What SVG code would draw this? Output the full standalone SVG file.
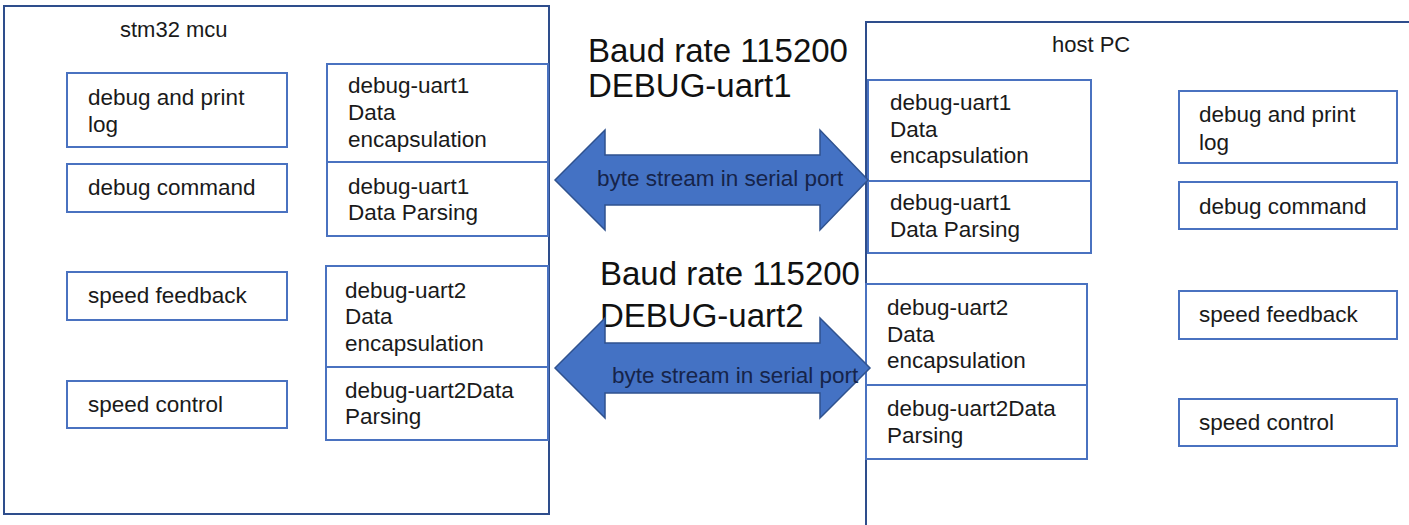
<svg xmlns="http://www.w3.org/2000/svg" width="1409" height="525" viewBox="0 0 1409 525">
<style>
.outer{fill:#fff;stroke:#2e4d8c;stroke-width:2}
.box{fill:#fff;stroke:#4a72c0;stroke-width:2}
.t{font-family:"Liberation Sans",Arial,sans-serif;font-size:22.5px;fill:#1a1a1a}
.title{font-family:"Liberation Sans",Arial,sans-serif;font-size:22px;fill:#1a1a1a}
.baud{font-family:"Liberation Sans",Arial,sans-serif;font-size:33px;fill:#111}
.arrow{fill:#4472c4;stroke:#2f528f;stroke-width:1.5}
.at{font-family:"Liberation Sans",Arial,sans-serif;font-size:22.5px;fill:#16244a}
</style>
<rect width="1409" height="525" fill="#fff"/>
<g id="mcu">
<rect class="outer" x="4" y="6" width="545" height="508"/>
<text class="title" x="120" y="37">stm32 mcu</text>
</g>
<g id="mcu-debug-log"><rect class="box" x="67" y="73" width="220" height="74"/><text class="t" x="88" y="105">debug and print</text><text class="t" x="88" y="132">log</text></g>
<g id="mcu-debug-cmd"><rect class="box" x="67" y="164" width="220" height="48"/><text class="t" x="88" y="195">debug command</text></g>
<g id="mcu-speed-fb"><rect class="box" x="67" y="272" width="220" height="48"/><text class="t" x="88" y="303">speed feedback</text></g>
<g id="mcu-speed-ctl"><rect class="box" x="67" y="381" width="220" height="47"/><text class="t" x="88" y="412">speed control</text></g>
<g id="mcu-uart1-enc"><rect class="box" x="327" y="64" width="221" height="98"/><text class="t" x="348" y="93">debug-uart1</text><text class="t" x="348" y="120">Data</text><text class="t" x="348" y="147">encapsulation</text></g>
<g id="mcu-uart1-parse"><rect class="box" x="327" y="162" width="221" height="74"/><text class="t" x="348" y="194">debug-uart1</text><text class="t" x="348" y="220">Data Parsing</text></g>
<g id="mcu-uart2-enc"><rect class="box" x="326" y="266" width="222" height="101"/><text class="t" x="345" y="298">debug-uart2</text><text class="t" x="345" y="324">Data</text><text class="t" x="345" y="351">encapsulation</text></g>
<g id="mcu-uart2-parse"><rect class="box" x="326" y="367" width="222" height="73"/><text class="t" x="345" y="398">debug-uart2Data</text><text class="t" x="345" y="424">Parsing</text></g>

<g id="host">
<rect class="outer" x="866" y="22" width="560" height="520"/>
<text class="title" x="1052" y="52">host PC</text>
</g>
<g id="host-uart1-enc"><rect class="box" x="868" y="80" width="223" height="101"/><text class="t" x="890" y="110">debug-uart1</text><text class="t" x="890" y="137">Data</text><text class="t" x="890" y="163">encapsulation</text></g>
<g id="host-uart1-parse"><rect class="box" x="868" y="181" width="223" height="72"/><text class="t" x="890" y="210">debug-uart1</text><text class="t" x="890" y="237">Data Parsing</text></g>
<g id="host-uart2-enc"><rect class="box" x="866" y="284" width="221" height="101"/><text class="t" x="887" y="315">debug-uart2</text><text class="t" x="887" y="342">Data</text><text class="t" x="887" y="368">encapsulation</text></g>
<g id="host-uart2-parse"><rect class="box" x="866" y="385" width="221" height="74"/><text class="t" x="887" y="416">debug-uart2Data</text><text class="t" x="887" y="443">Parsing</text></g>
<g id="host-debug-log"><rect class="box" x="1179" y="91" width="218" height="72"/><text class="t" x="1199" y="122">debug and print</text><text class="t" x="1199" y="150">log</text></g>
<g id="host-debug-cmd"><rect class="box" x="1179" y="182" width="218" height="47"/><text class="t" x="1199" y="214">debug command</text></g>
<g id="host-speed-fb"><rect class="box" x="1179" y="291" width="218" height="48"/><text class="t" x="1199" y="322">speed feedback</text></g>
<g id="host-speed-ctl"><rect class="box" x="1179" y="399" width="218" height="47"/><text class="t" x="1199" y="430">speed control</text></g>

<g id="connectors">
<text class="baud" x="588" y="62">Baud rate 115200</text>
<text class="baud" x="588" y="97">DEBUG-uart1</text>
<path class="arrow" d="M555,180 L605,130 L605,155 L820,155 L820,130 L868,180 L820,230 L820,205 L605,205 L605,230 Z"/>
<text class="at" x="597" y="186">byte stream in serial port</text>
<text class="baud" x="600" y="285">Baud rate 115200</text>
<text class="baud" x="600" y="327">DEBUG-uart2</text>
<path class="arrow" d="M555,368 L605,318 L605,343 L820,343 L820,318 L870,368 L820,418 L820,393 L605,393 L605,418 Z"/>
<text class="at" x="612" y="383">byte stream in serial port</text>
</g>
</svg>
